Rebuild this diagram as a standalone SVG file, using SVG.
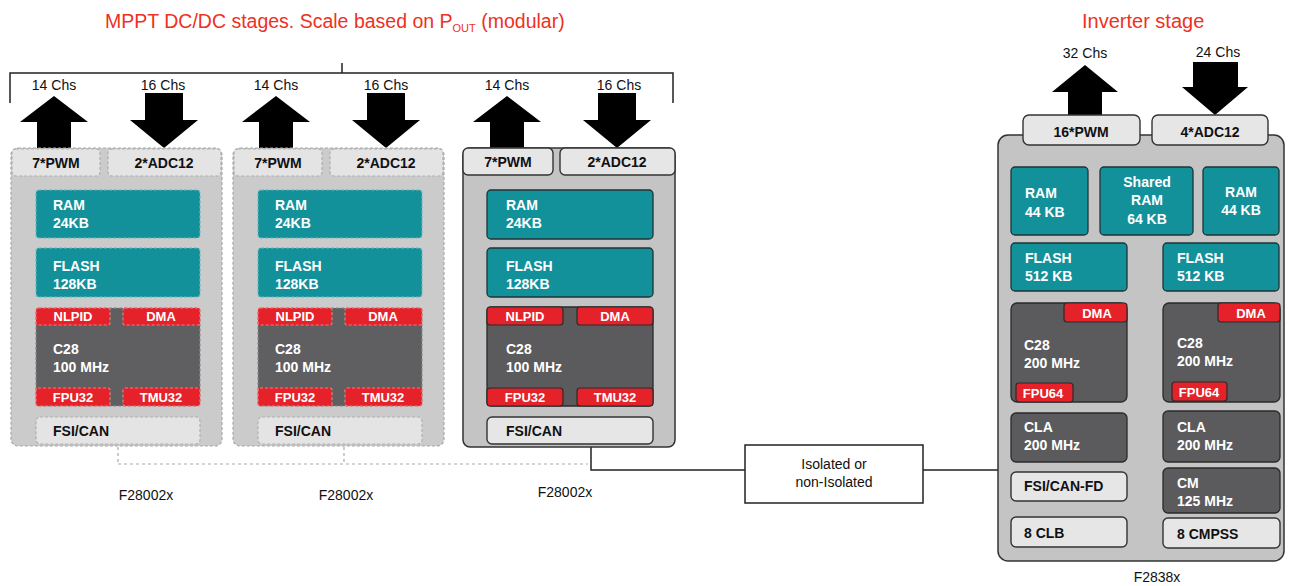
<svg xmlns="http://www.w3.org/2000/svg" width="1291" height="586" viewBox="0 0 1291 586">
<style>
text{font-family:"Liberation Sans",Arial,sans-serif;}
.ttl{fill:#ee3124;font-size:19.5px;}
.sub{font-size:11px;}
.t{font-size:14px;fill:#111;}
.tb{font-size:14px;font-weight:bold;fill:#111;}
.tw{font-size:14px;font-weight:bold;fill:#fff;}
.tr{font-size:13px;font-weight:bold;fill:#fff;text-anchor:middle;}
.m{text-anchor:middle;}
.outer{fill:#c4c4c4;stroke:#333;stroke-width:1.5;}
.outer-d{fill:#cbcbcb;stroke:#a8a8a8;stroke-width:1.2;stroke-dasharray:3 2;}
.light{fill:#e6e6e6;stroke:#333;stroke-width:1.4;}
.light-d{fill:#e4e4e4;stroke:#b0b0b0;stroke-width:1.2;stroke-dasharray:3 2;}
.teal{fill:#13919b;stroke:#1f3436;stroke-width:1.3;}
.teal-d{fill:#13919b;stroke:#6cb8bd;stroke-width:1.2;stroke-dasharray:3 2;}
.core{fill:#5b5b5d;stroke:#2a2a2a;stroke-width:1.3;}
.core-d{fill:#5f5f61;stroke:#8a8a8a;stroke-width:1.2;stroke-dasharray:3 2;}
.red{fill:#e5222a;stroke:#2a2a2a;stroke-width:1.2;}
.red-d{fill:#e5222a;stroke:#f07a7e;stroke-width:1.2;stroke-dasharray:3 2;}
.blk{fill:#000;}
.ln{fill:none;stroke:#222;stroke-width:1.5;}
.dash{fill:none;stroke:#aaa;stroke-width:1.2;stroke-dasharray:3 3;}
</style>

<g id="titles">
  <text class="ttl" x="105" y="28">MPPT DC/DC stages. Scale based on P<tspan class="sub" dy="4">OUT</tspan><tspan dy="-4"> (modular)</tspan></text>
  <text class="ttl" x="1082" y="28" style="font-size:20px">Inverter stage</text>
</g>

<g id="connectors">
  <path class="ln" d="M10,103 V73 H673 V103 M342,73 V63"/>
  <g class="blk">
    <polygon points="54,96 88,122 71,122 71,152 37,152 37,122 20,122"/>
    <polygon points="145,93 183,93 183,120 198,120 164,148 130,120 145,120"/>
    <polygon points="276,96 310,122 293,122 293,152 259,152 259,122 242,122"/>
    <polygon points="367,93 405,93 405,120 420,120 386,148 352,120 367,120"/>
    <polygon points="507,96 541,122 524,122 524,152 490,152 490,122 473,122"/>
    <polygon points="598,93 636,93 636,120 651,120 617,148 583,120 598,120"/>
    <polygon points="1085,65 1118,92 1102,92 1102,118 1068,118 1068,92 1052,92"/>
    <polygon points="1193,62 1238,62 1238,87 1248,87 1215,115 1182,87 1193,87"/>
  </g>
  <path class="dash" d="M118,447 V464 M344,447 V464 M118,464 H588"/>
  <path class="ln" d="M591,447 V470 H745 M923,470 H998"/>
</g>

<g id="labels">
  <text class="t m" x="54" y="90">14 Chs</text>
  <text class="t m" x="163" y="90">16 Chs</text>
  <text class="t m" x="276" y="90">14 Chs</text>
  <text class="t m" x="386" y="90">16 Chs</text>
  <text class="t m" x="507" y="90">14 Chs</text>
  <text class="t m" x="619" y="90">16 Chs</text>
  <text class="t m" x="1085" y="58">32 Chs</text>
  <text class="t m" x="1218" y="57">24 Chs</text>
  <text class="t m" x="146" y="500">F28002x</text>
  <text class="t m" x="346" y="500">F28002x</text>
  <text class="t m" x="565" y="497">F28002x</text>
  <text class="t m" x="1157" y="582">F2838x</text>
</g>

<g id="module1">
  <rect class="outer-d" x="11" y="148" width="211" height="298" rx="7"/>
  <rect class="light-d" x="12" y="149" width="88" height="27" rx="4"/>
  <rect class="light-d" x="108" y="149" width="113" height="27" rx="4"/>
  <text class="tb m" x="56" y="168">7*PWM</text>
  <text class="tb m" x="164" y="168">2*ADC12</text>
  <rect class="teal-d" x="36" y="190" width="164" height="48" rx="3"/>
  <text class="tw" x="53" y="210">RAM</text><text class="tw" x="53" y="228">24KB</text>
  <rect class="teal-d" x="36" y="248" width="164" height="49" rx="3"/>
  <text class="tw" x="53" y="271">FLASH</text><text class="tw" x="53" y="289">128KB</text>
  <rect class="core-d" x="36" y="308" width="164" height="98" rx="3"/>
  <text class="tw" x="53" y="354">C28</text><text class="tw" x="53" y="372">100 MHz</text>
  <rect class="red-d" x="36" y="308" width="74" height="17" rx="2"/><text class="tr" x="73" y="321">NLPID</text>
  <rect class="red-d" x="123" y="308" width="77" height="17" rx="2"/><text class="tr" x="161" y="321">DMA</text>
  <rect class="red-d" x="36" y="388" width="74" height="18" rx="2"/><text class="tr" x="73" y="402">FPU32</text>
  <rect class="red-d" x="123" y="388" width="77" height="18" rx="2"/><text class="tr" x="161" y="402">TMU32</text>
  <rect class="light-d" x="36" y="417" width="164" height="27" rx="4"/>
  <text class="tb" x="53" y="436">FSI/CAN</text>
</g>

<g id="module2" transform="translate(222,0)">
  <rect class="outer-d" x="11" y="148" width="211" height="298" rx="7"/>
  <rect class="light-d" x="12" y="149" width="88" height="27" rx="4"/>
  <rect class="light-d" x="108" y="149" width="113" height="27" rx="4"/>
  <text class="tb m" x="56" y="168">7*PWM</text>
  <text class="tb m" x="164" y="168">2*ADC12</text>
  <rect class="teal-d" x="36" y="190" width="164" height="48" rx="3"/>
  <text class="tw" x="53" y="210">RAM</text><text class="tw" x="53" y="228">24KB</text>
  <rect class="teal-d" x="36" y="248" width="164" height="49" rx="3"/>
  <text class="tw" x="53" y="271">FLASH</text><text class="tw" x="53" y="289">128KB</text>
  <rect class="core-d" x="36" y="308" width="164" height="98" rx="3"/>
  <text class="tw" x="53" y="354">C28</text><text class="tw" x="53" y="372">100 MHz</text>
  <rect class="red-d" x="36" y="308" width="74" height="17" rx="2"/><text class="tr" x="73" y="321">NLPID</text>
  <rect class="red-d" x="123" y="308" width="77" height="17" rx="2"/><text class="tr" x="161" y="321">DMA</text>
  <rect class="red-d" x="36" y="388" width="74" height="18" rx="2"/><text class="tr" x="73" y="402">FPU32</text>
  <rect class="red-d" x="123" y="388" width="77" height="18" rx="2"/><text class="tr" x="161" y="402">TMU32</text>
  <rect class="light-d" x="36" y="417" width="164" height="27" rx="4"/>
  <text class="tb" x="53" y="436">FSI/CAN</text>
</g>

<g id="module3" transform="translate(451,0)">
  <rect class="outer" x="12" y="148" width="212" height="299" rx="7"/>
  <rect class="light" x="12" y="148" width="90" height="27" rx="5"/>
  <rect class="light" x="109" y="148" width="115" height="27" rx="5"/>
  <text class="tb m" x="57" y="167">7*PWM</text>
  <text class="tb m" x="166" y="167">2*ADC12</text>
  <rect class="teal" x="36" y="190" width="166" height="49" rx="4"/>
  <text class="tw" x="55" y="210">RAM</text><text class="tw" x="55" y="228">24KB</text>
  <rect class="teal" x="36" y="248" width="166" height="49" rx="4"/>
  <text class="tw" x="55" y="271">FLASH</text><text class="tw" x="55" y="289">128KB</text>
  <rect class="core" x="36" y="307" width="166" height="99" rx="4"/>
  <text class="tw" x="55" y="354">C28</text><text class="tw" x="55" y="372">100 MHz</text>
  <rect class="red" x="36" y="307" width="76" height="18" rx="3"/><text class="tr" x="74" y="321">NLPID</text>
  <rect class="red" x="126" y="307" width="76" height="18" rx="3"/><text class="tr" x="164" y="321">DMA</text>
  <rect class="red" x="36" y="388" width="76" height="18" rx="3"/><text class="tr" x="74" y="402">FPU32</text>
  <rect class="red" x="126" y="388" width="76" height="18" rx="3"/><text class="tr" x="164" y="402">TMU32</text>
  <rect class="light" x="36" y="417" width="166" height="27" rx="5"/>
  <text class="tb" x="55" y="436">FSI/CAN</text>
</g>

<g id="isolation">
  <rect x="745" y="445" width="178" height="58" fill="#fff" stroke="#222" stroke-width="1.5"/>
  <text class="t m" x="834" y="469">Isolated or</text>
  <text class="t m" x="834" y="487">non-Isolated</text>
</g>

<g id="inverter">
  <rect class="outer" x="998" y="135" width="286" height="426" rx="10"/>
  <rect class="light" x="1023" y="115" width="117" height="30" rx="6"/>
  <rect class="light" x="1152" y="115" width="116" height="30" rx="6"/>
  <text class="tb m" x="1081" y="137">16*PWM</text>
  <text class="tb m" x="1210" y="137">4*ADC12</text>
  <rect class="teal" x="1011" y="167" width="77" height="68" rx="4"/>
  <text class="tw" x="1025" y="198">RAM</text><text class="tw" x="1025" y="217">44 KB</text>
  <rect class="teal" x="1100" y="167" width="93" height="68" rx="4"/>
  <text class="tw m" x="1147" y="187">Shared</text><text class="tw m" x="1147" y="205">RAM</text><text class="tw m" x="1147" y="224">64 KB</text>
  <rect class="teal" x="1203" y="167" width="76" height="68" rx="4"/>
  <text class="tw m" x="1241" y="197">RAM</text><text class="tw m" x="1241" y="215">44 KB</text>
  <rect class="teal" x="1011" y="243" width="116" height="48" rx="4"/>
  <text class="tw" x="1025" y="263">FLASH</text><text class="tw" x="1025" y="281">512 KB</text>
  <rect class="teal" x="1163" y="243" width="116" height="48" rx="4"/>
  <text class="tw" x="1177" y="263">FLASH</text><text class="tw" x="1177" y="281">512 KB</text>
  <rect class="core" x="1011" y="303" width="116" height="99" rx="6"/>
  <text class="tw" x="1024" y="350">C28</text><text class="tw" x="1024" y="368">200 MHz</text>
  <rect class="red" x="1064" y="303" width="63" height="19" rx="3"/><text class="tr" x="1097" y="318">DMA</text>
  <rect class="red" x="1016" y="383" width="57" height="19" rx="3"/><text class="tr" x="1043" y="398">FPU64</text>
  <rect class="core" x="1163" y="303" width="117" height="99" rx="6"/>
  <text class="tw" x="1177" y="348">C28</text><text class="tw" x="1177" y="366">200 MHz</text>
  <rect class="red" x="1218" y="303" width="62" height="19" rx="3"/><text class="tr" x="1251" y="318">DMA</text>
  <rect class="red" x="1172" y="382" width="55" height="19" rx="3"/><text class="tr" x="1199" y="397">FPU64</text>
  <rect class="core" x="1011" y="413" width="116" height="49" rx="5"/>
  <text class="tw" x="1024" y="432">CLA</text><text class="tw" x="1024" y="450">200 MHz</text>
  <rect class="core" x="1163" y="411" width="117" height="51" rx="5"/>
  <text class="tw" x="1177" y="432">CLA</text><text class="tw" x="1177" y="450">200 MHz</text>
  <rect class="light" x="1011" y="472" width="116" height="29" rx="5"/>
  <text class="tb" x="1024" y="491">FSI/CAN-FD</text>
  <rect class="core" x="1163" y="468" width="117" height="45" rx="5"/>
  <text class="tw" x="1177" y="488">CM</text><text class="tw" x="1177" y="506">125 MHz</text>
  <rect class="light" x="1011" y="517" width="116" height="30" rx="5"/>
  <text class="tb" x="1024" y="538">8 CLB</text>
  <rect class="light" x="1163" y="518" width="117" height="30" rx="5"/>
  <text class="tb" x="1177" y="539">8 CMPSS</text>
</g>
</svg>
